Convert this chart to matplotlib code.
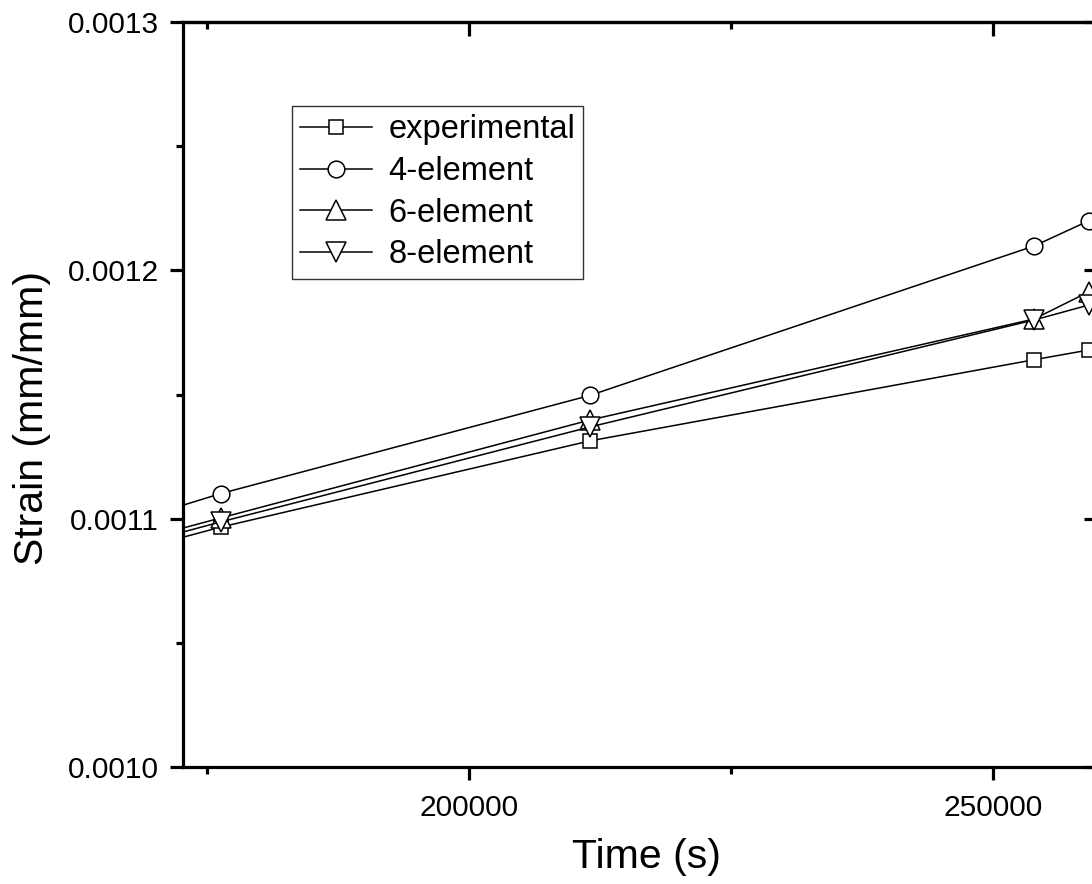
import matplotlib
matplotlib.use("Agg")
import matplotlib.pyplot as plt
from matplotlib.ticker import MultipleLocator, FormatStrFormatter, FuncFormatter

plt.rcParams['font.family'] = ['Liberation Sans', 'DejaVu Sans']

# data (time in s, strain in mm/mm)
time = [141000, 176300, 211500, 253900, 259100]
experimental = [0.0010566, 0.0010966, 0.0011313, 0.0011640, 0.0011679]
elem4 = [0.0010642, 0.0011101, 0.0011496, 0.0012098, 0.0012199]
elem6 = [0.0010603, 0.0011003, 0.0011397, 0.0011804, 0.0011913]
elem8 = [0.0010587, 0.0010987, 0.0011369, 0.0011800, 0.0011860]

series = [
    ("experimental", experimental, 's', 10),
    ("4-element", elem4, 'o', 12),
    ("6-element", elem6, '^', 14),
    ("8-element", elem8, 'v', 14),
]

W, H = 1092, 884
fig = plt.figure(figsize=(W / 100, H / 100), dpi=100)
ax = fig.add_axes([183 / W, 1 - 767 / H, (1098 - 183) / W, (767 - 22) / H])

for name, vals, mk, ms in series:
    ax.plot(time, vals, color='black', lw=1.1, marker=mk, ms=ms,
            mfc='white', mec='black', mew=1.1, label=name)

ax.set_xlim(172700, 260000)
ax.set_ylim(0.0010, 0.0013)

ax.xaxis.set_major_locator(MultipleLocator(50000))
ax.xaxis.set_minor_locator(MultipleLocator(25000))
ax.yaxis.set_major_locator(MultipleLocator(0.0001))
ax.yaxis.set_minor_locator(MultipleLocator(0.00005))
ax.yaxis.set_major_formatter(FormatStrFormatter('%.4f'))
ax.xaxis.set_major_formatter(FuncFormatter(lambda v, p: '%d' % v))

for s in ax.spines.values():
    s.set_linewidth(2.3)

ax.tick_params(which='major', direction='out', length=9.5, width=2.3,
               labelsize=21.5, pad=8)
ax.tick_params(which='minor', direction='out', length=5, width=2.3)
ax.tick_params(axis='x', which='major', pad=10)

top = ax.secondary_xaxis('top')
top.xaxis.set_major_locator(MultipleLocator(50000))
top.xaxis.set_minor_locator(MultipleLocator(25000))
top.tick_params(which='major', direction='in', length=10, width=2.3, labeltop=False)
top.tick_params(which='minor', direction='in', length=5, width=2.3)
right = ax.secondary_yaxis('right')
right.yaxis.set_major_locator(MultipleLocator(0.0001))
right.yaxis.set_minor_locator(MultipleLocator(0.00005))
right.tick_params(which='major', direction='in', length=10, width=2.3, labelright=False)
right.tick_params(which='minor', direction='in', length=4, width=2.3)
for sa in (top, right):
    for s in sa.spines.values():
        s.set_linewidth(2.3)

ax.set_xlabel('Time (s)', fontsize=29.5)
ax.set_ylabel('Strain (mm/mm)', fontsize=29.5)
ax.xaxis.set_label_coords(0.506, -0.095)
ax.yaxis.set_label_coords(-0.144, 0.468)

leg = ax.legend(loc='upper left', bbox_to_anchor=(292 / W, 1 - 106 / H),
                bbox_transform=fig.transFigure, fontsize=23.5, frameon=True,
                fancybox=False, edgecolor='black', borderaxespad=0,
                borderpad=0.25, labelspacing=0.33, handlelength=2.2,
                handletextpad=0.5, markerscale=1.0)
leg.get_frame().set_linewidth(1.0)

fig.savefig('out.png', dpi=100)
